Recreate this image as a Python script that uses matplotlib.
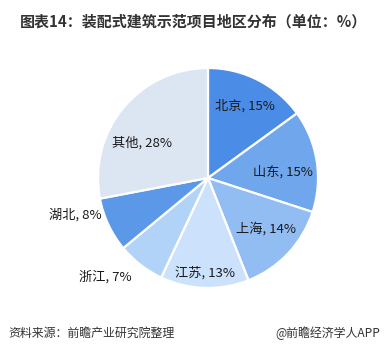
import numpy as np
import matplotlib
matplotlib.use("Agg")
import matplotlib.pyplot as plt

plt.rcParams['font.family'] = ['Noto Sans CJK SC', 'DejaVu Sans']

# data
regions = ['北京', '山东', '上海', '江苏', '浙江', '湖北', '其他']
shares = [15, 15, 14, 13, 7, 8, 28]
colors = ['#4A8CE6', '#6FA6EC', '#92BDF3', '#CCE2FC', '#B2D3F8', '#5B98E8', '#DCE5F2']

# label placement (radius factor, angle shift in degrees, horizontal alignment)
label_r = [0.74, 0.68, 0.70, 0.86, 1.14, 1.02, 0.68]
label_shift = [0, -4, 2, 0, 0, -6, 12]
label_ha = ['center', 'center', 'center', 'center', 'right', 'right', 'center']

W, H = 388, 353
fig = plt.figure(figsize=(W / 100, H / 100), dpi=100)

cx, cy, R = 208, 178, 110
ax = fig.add_axes([(cx - R) / W, (H - cy - R) / H, 2 * R / W, 2 * R / H])
wedges, _ = ax.pie(shares, colors=colors, startangle=90, counterclock=False,
                   radius=1, wedgeprops=dict(edgecolor='white', linewidth=1.6))
ax.set_xlim(-1, 1)
ax.set_ylim(-1, 1)
ax.set_aspect('equal')
ax.axis('off')

for w, name, val, r, sh, ha in zip(wedges, regions, shares, label_r, label_shift, label_ha):
    ang = np.deg2rad((w.theta1 + w.theta2) / 2 + sh)
    ax.text(r * np.cos(ang), r * np.sin(ang), f'{name}, {val}%',
            ha=ha, va='center', fontsize=9.5, color='#1a1a1a', clip_on=False)

fig.text(20 / W, 1 - 22 / H, '图表14：装配式建筑示范项目地区分布（单位：%）',
         fontsize=10.8, fontweight='bold', color='#333333', va='center', ha='left')
fig.text(8 / W, 1 - 333 / H, '资料来源：前瞻产业研究院整理',
         fontsize=8.6, style='italic', color='#333333', va='center', ha='left')
fig.text(380 / W, 1 - 333 / H, '@前瞻经济学人APP',
         fontsize=8.6, color='#333333', va='center', ha='right')

fig.savefig('out.png', dpi=100)
